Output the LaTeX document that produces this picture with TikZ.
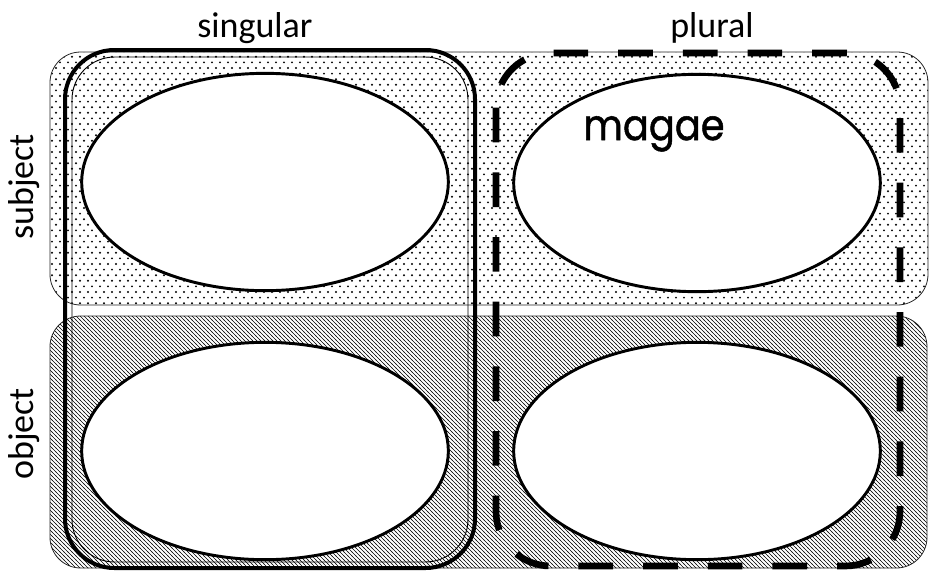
\documentclass[tikz,border=0pt]{standalone}
\usepackage{fontspec}
\setmainfont{Carlito}
\newfontfamily\comicfont[FakeBold=1.2]{Poppins}
\usetikzlibrary{patterns.meta,shapes.geometric}

% fills of the two rows
\tikzdeclarepattern{
  name=speckle, type=uncolored,
  bounding box={(-1pt,-1pt) and (7pt,9.4pt)},
  tile size={(6pt,8.4pt)},
  code={
    \fill (0pt,0pt) circle (0.8pt);
    \fill (3pt,4.2pt) circle (0.8pt);
  }}
\tikzdeclarepattern{
  name=hatch, type=uncolored,
  bounding box={(-1pt,-1pt) and (4pt,4pt)},
  tile size={(3pt,3pt)},
  code={
    \draw[line width=0.4pt] (-0.3pt,3.3pt) -- (3.3pt,-0.3pt);
  }}

\begin{document}
\begin{tikzpicture}[x=0.75pt,y=-0.75pt,
    rowbox/.style={draw=black!85,line width=0.6pt,rounded corners=23pt},
    slot/.style={ellipse,draw,line width=2.2pt,fill=white,inner sep=0pt,
      minimum width=275pt,minimum height=163pt},
    heading/.style={font=\fontsize{27}{30}\selectfont,anchor=base}]
    \useasboundingbox (0,0) rectangle (933,572);
    % rows
    \draw[rowbox,pattern=speckle] (50,52) rectangle (928,305);
    \draw[rowbox,pattern=hatch] (50,316) rectangle (927,568);
    % cells
    \node[slot] (sgsubj) at (265,182) {};
    \node[slot] (plsubj) at (697,183) {};
    \node[slot] (sgobj) at (265,451) {};
    \node[slot] (plobj) at (697,451) {};
    % columns
    \draw[line width=3pt,rounded corners=37pt] (65,50) rectangle (475,568);
    \draw[line width=0.7pt,rounded corners=32pt] (72,57) rectangle (468,562);
    \draw[line width=5pt,dash pattern=on 26pt off 22.5pt,rounded corners=41pt] (496,53) rectangle (900,566);
    % labels
    \node[heading] (sg) at (255,37) {singular};
    \node[heading] (pl) at (712,37) {plural};
    \node[heading,rotate=90] (subj) at (33,187) {subject};
    \node[heading,rotate=90] (obj) at (33,434) {object};
    \node[font=\comicfont\fontsize{32}{36}\selectfont,anchor=base] (magae) at (654,140) {\scalebox{0.9}[1]{magae}};
\end{tikzpicture}
\end{document}
